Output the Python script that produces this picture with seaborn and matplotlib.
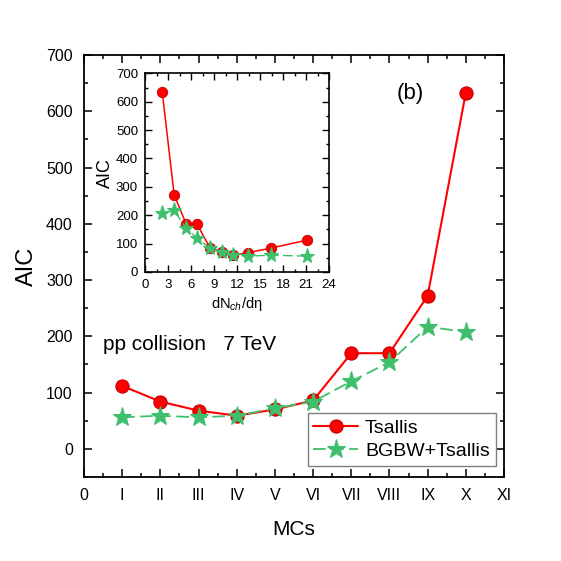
import matplotlib
matplotlib.use('Agg')
from matplotlib import pyplot as plt
from matplotlib.ticker import MultipleLocator
import pandas as pd
import seaborn as sns

# main panel: AIC per multiplicity class
mc_pos = [1, 2, 3, 4, 5, 6, 7, 8, 9, 10]
mc_labels = ['0', 'I', 'II', 'III', 'IV', 'V', 'VI', 'VII', 'VIII', 'IX', 'X', 'XI']
aic_tsallis = [112, 84, 68, 59, 70, 86, 170, 170, 272, 633]
aic_bgbw = [56, 59, 56, 59, 72, 84, 120, 154, 217, 208]

# inset: AIC vs dNch/deta
dnch = [2.25, 3.8, 5.35, 6.75, 8.45, 10.05, 11.45, 13.45, 16.4, 21.1]
aic_tsallis_in = [633, 272, 170, 170, 86, 70, 59, 68, 84, 112]
aic_bgbw_in = [208, 217, 154, 120, 84, 72, 59, 56, 59, 56]

RED = '#ff0000'
GREEN = '#3dbf6c'

sns.set_style('ticks')
plt.rcParams['font.family'] = ['Liberation Sans', 'DejaVu Sans']
plt.rcParams['mathtext.fontset'] = 'custom'
plt.rcParams['mathtext.rm'] = 'Liberation Sans'
plt.rcParams['mathtext.it'] = 'Liberation Sans:italic'
for key in ['text.color', 'axes.labelcolor', 'xtick.color', 'ytick.color', 'axes.edgecolor']:
    plt.rcParams[key] = 'black'

df = pd.DataFrame({'mc': mc_pos, 'tsallis': aic_tsallis, 'bgbw': aic_bgbw})
df_in = pd.DataFrame({'x': dnch, 'tsallis': aic_tsallis_in, 'bgbw': aic_bgbw_in})

fig = plt.figure(figsize=(5.61, 5.61), dpi=100)
ax = fig.add_axes([0.1497, 0.1497, 0.7487, 0.7523])

sns.lineplot(data=df, x='mc', y='tsallis', ax=ax, sort=False, color=RED, lw=1.5,
             marker='o', markersize=9.5, markerfacecolor=RED, markeredgecolor='#c00000',
             markeredgewidth=0.8, label='Tsallis')
sns.lineplot(data=df, x='mc', y='bgbw', ax=ax, sort=False, color=GREEN, lw=1.3,
             dashes=(7, 3), marker='*', markersize=14, markerfacecolor=GREEN,
             markeredgecolor=GREEN, label='BGBW+Tsallis')

ax.set_xlim(0, 11)
ax.set_ylim(-50, 700)
ax.set_xticks(range(12))
ax.set_xticklabels(mc_labels)
ax.xaxis.set_minor_locator(MultipleLocator(0.5))
ax.set_yticks(range(0, 701, 100))
ax.yaxis.set_minor_locator(MultipleLocator(50))
ax.tick_params(which='both', direction='in', top=True, right=True, labelsize=11.5, width=1.1)
ax.tick_params(which='major', length=6, pad=8)
ax.tick_params(which='minor', length=3)
for s in ax.spines.values():
    s.set_linewidth(1.3)
ax.set_xlabel('MCs', fontsize=15, labelpad=12)
ax.set_ylabel('AIC', fontsize=17, labelpad=6)

ax.text(0.045, 0.30, 'pp collision   7 TeV', transform=ax.transAxes, fontsize=15)
ax.text(0.745, 0.895, '(b)', transform=ax.transAxes, fontsize=16)

leg = ax.legend(loc='lower right', bbox_to_anchor=(0.98, 0.026), fontsize=14,
                frameon=True, fancybox=False, edgecolor='#808080', framealpha=1,
                handlelength=2.3, borderpad=0.3, labelspacing=0.3, handletextpad=0.35,
                borderaxespad=0)
leg.get_frame().set_linewidth(1.0)

# inset
axi = fig.add_axes([0.2585, 0.5152, 0.328, 0.3541])
sns.lineplot(data=df_in, x='x', y='tsallis', ax=axi, sort=False, color=RED, lw=1.1,
             marker='o', markersize=7.5, markerfacecolor=RED, markeredgecolor='#c00000',
             markeredgewidth=0.6, legend=False)
sns.lineplot(data=df_in, x='x', y='bgbw', ax=axi, sort=False, color=GREEN, lw=1.0,
             dashes=(7, 3), marker='*', markersize=11, markerfacecolor=GREEN,
             markeredgecolor=GREEN, legend=False)
axi.set_xlim(0, 24)
axi.set_ylim(0, 700)
axi.set_xticks(range(0, 25, 3))
axi.xaxis.set_minor_locator(MultipleLocator(1.5))
axi.set_yticks(range(0, 701, 100))
axi.yaxis.set_minor_locator(MultipleLocator(50))
axi.tick_params(which='both', direction='in', top=True, right=True, labelsize=9.5, width=1.0)
axi.tick_params(which='major', length=5, pad=5)
axi.tick_params(which='minor', length=2.5)
for s in axi.spines.values():
    s.set_linewidth(1.2)
axi.set_xlabel(r'dN$_{ch}$/dη', fontsize=10.5, labelpad=3)
axi.set_ylabel('AIC', fontsize=13, labelpad=1)

fig.savefig('out.png', dpi=100)
